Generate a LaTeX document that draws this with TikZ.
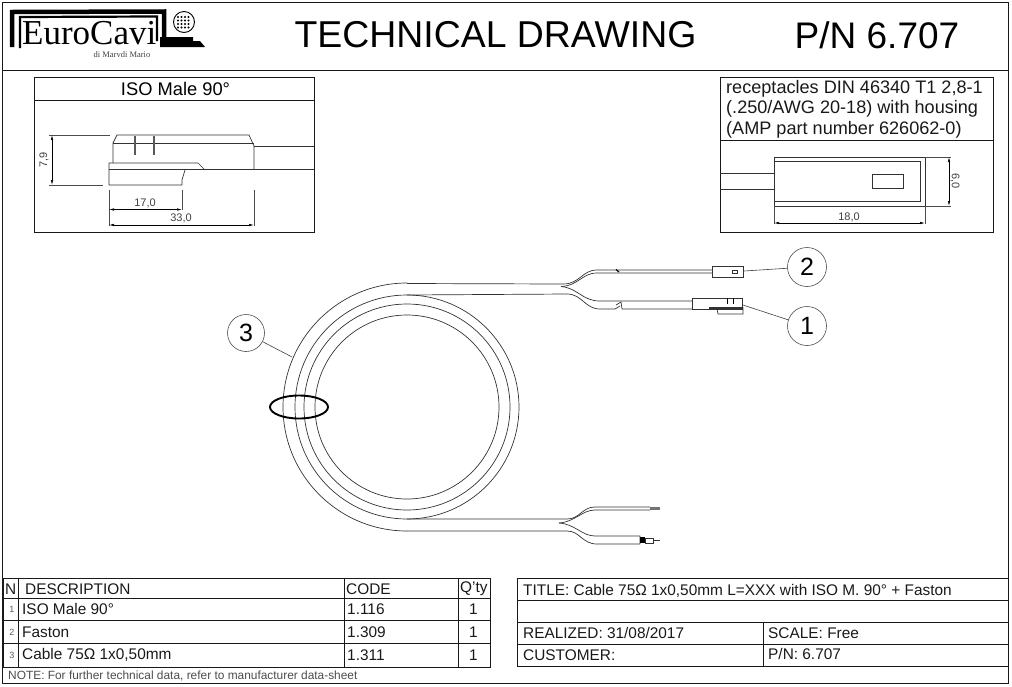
\documentclass[tikz,border=0pt]{standalone}
\usepackage{fontspec}
\setmainfont{Liberation Sans}
\newfontfamily\logofont{Liberation Serif}
\usetikzlibrary{arrows.meta}
\tikzset{
    wire/.style={line width=.7pt, color=black!80},
    frameline/.style={line width=.9pt, color=black!90},
    dimline/.style={line width=.6pt, color=black!70},
    dimarrow/.style={line width=.6pt, color=black, {Latex[length=5pt,width=2.5pt]}-{Latex[length=5pt,width=2.5pt]}},
    dimtext/.style={font=\fontsize{11}{12}\selectfont, color=black!75, inner sep=0pt},
    balloon/.style={circle, draw=black!70, line width=.6pt, minimum size=39pt, inner sep=0pt, font=\fontsize{25}{27}\selectfont},
    leader/.style={line width=.6pt, color=black!75},
    celltext/.style={anchor=west, inner sep=0pt, font=\fontsize{15.4}{17}\selectfont, color=black!90},
    numtext/.style={inner sep=0pt, font=\fontsize{9}{10}\selectfont, color=black!65}
}
\begin{document}
\begin{tikzpicture}[x=1pt,y=-1pt]
            \useasboundingbox (0,0) rectangle (1012,686);

            % sheet and header
            \draw[frameline] (2.5,2.5) rectangle (1008,683);
            \draw[frameline] (2.5,70) -- (1008,70);
            \node[inner sep=0pt, font=\fontsize{37.4}{40}\selectfont] (title) at (495.5,35) {TECHNICAL DRAWING};
            \node[inner sep=0pt, font=\fontsize{37}{40}\selectfont] (partno) at (877,35) {P/N 6.707};

            % logo
            \draw[line width=4.5pt] (12,47) -- (12,12) -- (164,11.5) -- (164,37);
            \draw[line width=2.2pt] (20,48) -- (20,17) -- (157,16.5) -- (157,41);
            \fill (160,37) -- (193,37) -- (193,41) -- (200,41) -- (205,47) -- (160,47) -- cycle;
            \node[anchor=base west, inner sep=0pt, font=\logofont\fontsize{35}{37}\selectfont] (logo) at (22,44) {EuroCavi};
            \node[inner sep=0pt, font=\logofont\fontsize{8.5}{9}\selectfont, color=black!75] (logosub) at (122,55) {di Marvdi Mario};
            \draw[line width=.9pt] (184,22) circle[radius=10.5pt];
            \foreach \px in {178,181.5,185,188.5} {
                \foreach \py in {17,20.5,24,27.5} {
                    \fill (\px,\py) circle[radius=1.2pt];
                }
            }

            % left detail
            \draw[frameline] (34,77) rectangle (314,232);
            \draw[frameline] (34,100) -- (314,100);
            \node[inner sep=0pt, font=\fontsize{18.3}{20}\selectfont] (isotitle) at (175.5,89) {ISO Male 90°};
            \draw[wire] (113,163) -- (113,143) -- (117,135) -- (249,135) -- (254,146) -- (254,169);
            \draw[wire] (113,143) -- (254,143);
            \draw[wire] (254,146) -- (314,146);
            \draw[wire] (254,169) -- (314,169);
            \draw[wire] (109,169) -- (109,163) -- (198,163) -- (204,169);
            \draw[wire] (109,169) -- (254,169);
            \draw[wire] (109,169) -- (109,185) -- (182,185) -- (182,180) -- (185,170);
            \draw[line width=1.2pt, color=black!65] (135,136) -- (135,155);
            \draw[line width=1.2pt, color=black!65] (154,136) -- (154,155);
            \draw[dimline] (49,135) -- (110,135);
            \draw[dimline] (49,185) -- (103,185);
            \draw[dimarrow] (52,135) -- (52,185);
            \node[dimtext, rotate=90] (isoheight) at (44,160) {7,9};
            \draw[dimline] (109,190) -- (109,226);
            \draw[dimline] (182,190) -- (182,210);
            \draw[dimline] (254,190) -- (254,226);
            \draw[dimarrow] (109,209.5) -- (182,209.5);
            \draw[dimarrow] (109,225) -- (254,225);
            \node[dimtext] (isoshort) at (145,203) {17,0};
            \node[dimtext] (isolong) at (181,218) {33,0};

            % right detail
            \draw[frameline] (720,77) rectangle (993,232);
            \draw[frameline] (720,140) -- (993,140);
            \node[celltext, font=\fontsize{18.1}{20}\selectfont] (recept1) at (726,89) {receptacles DIN 46340 T1 2,8-1};
            \node[celltext, font=\fontsize{18.1}{20}\selectfont] (recept2) at (726,109) {(.250/AWG 20-18) with housing};
            \node[celltext, font=\fontsize{18.1}{20}\selectfont] (recept3) at (726,130) {(AMP part number 626062-0)};
            \draw[wire] (774,157) rectangle (925,206);
            \draw[wire] (774,161) rectangle (920,201);
            \draw[wire] (872,174) rectangle (903,188);
            \draw[wire] (720,173) -- (774,173);
            \draw[wire] (720,189) -- (774,189);
            \draw[dimline] (925,157) -- (951,157);
            \draw[dimline] (925,206) -- (951,206);
            \draw[dimline] (774,206) -- (774,224);
            \draw[dimline] (925,206) -- (925,224);
            \draw[dimarrow] (949,157) -- (949,206);
            \draw[dimarrow] (774,223) -- (925,223);
            \node[dimtext, rotate=-90] (faswidth) at (955,181) {6,0};
            \node[dimtext] (faslength) at (849,217) {18,0};

            % cable coil
            \foreach \r in {92,103,112} {
                \draw[wire] (407,407) circle[radius=\r pt];
            }
            \draw[wire] (407,283) arc[start angle=90, end angle=270, radius=124pt];
            \draw[line width=1.9pt] (299,407) ellipse[x radius=29pt, y radius=11.5pt];

            % upper branches
            \draw[wire] (407,283.5) -- (563,284) .. controls (580,284) and (582,270) .. (597,270) -- (712,270);
            \draw[wire] (407,295) -- (567,294) .. controls (582,294) and (585,309) .. (600,309) -- (615,309) -- (620,306);
            \draw[wire] (616,305) -- (621,302) -- (622,309) -- (692,309);
            \draw[wire] (561,286.5) .. controls (578,286) and (582,273) .. (597,273) -- (712,273);
            \draw[wire] (561,286.5) .. controls (578,288) and (582,301) .. (600,301) -- (692,301);
            \draw[line width=1.2pt] (616,269.5) -- (619,272);

            % connector 2
            \draw[wire] (712,266) rectangle (743,277);
            \draw[wire] (732,270) rectangle (737,273);

            % connector 1
            \draw[wire] (692,309) -- (692,298) -- (742,298) -- (742,309) -- (692,309);
            \draw[line width=1.2pt, color=black!80] (709,308) -- (742,308);
            \draw[wire] (717,309) -- (718,314) -- (743,314) -- (743,307);
            \draw[line width=1pt] (727,298) -- (727,304);
            \draw[line width=1pt] (733,298) -- (733,304);

            % lower branches
            \draw[wire] (407,519) -- (567,519) .. controls (580,519) and (582,507) .. (595,507) -- (650,507);
            \draw[wire] (407,531) -- (567,531) .. controls (580,531) and (582,544) .. (597,544) -- (640,544);
            \draw[wire] (559,523) .. controls (575,522) and (582,510) .. (595,510) -- (650,510);
            \draw[wire] (559,523) .. controls (575,524) and (582,536) .. (595,536) -- (640,536) -- (640,544);
            \draw[line width=2.5pt, color=black!55] (650,508.5) -- (660,508.5);
            \fill (640,537) rectangle (645,543);
            \draw[wire] (645,538) rectangle (653,543);
            \draw[wire] (653,540.5) -- (660,540.5);

            % balloons
            \node[balloon] (ball2) at (807,267) {2};
            \node[balloon] (ball1) at (807,326) {1};
            \node[balloon, minimum size=37pt] (ball3) at (246,333) {3};
            \coordinate (tipb) at (744,271);
            \coordinate (tipa) at (743,305);
            \coordinate (tipc) at (292,357);
            \draw[leader] (ball2) -- (tipb);
            \draw[leader] (ball1) -- (tipa);
            \draw[leader] (ball3) -- (tipc);

            % parts list
            \draw[frameline] (3,578) rectangle (490,667);
            \draw[frameline] (3,598.5) -- (490,598.5);
            \draw[frameline] (3,620) -- (490,620);
            \draw[frameline] (3,643) -- (490,643);
            \draw[frameline] (18,578) -- (18,667);
            \draw[frameline] (344,578) -- (344,667);
            \draw[frameline] (458,578) -- (458,667);
            \node[celltext] (headn) at (5,589) {N};
            \node[celltext] (headdesc) at (25,589) {DESCRIPTION};
            \node[celltext] (headcode) at (346,589) {CODE};
            \node[celltext] (headqty) at (460,589) {Q'ty};
            \node[numtext] (num1) at (12,609) {1};
            \node[numtext] (num2) at (12,632) {2};
            \node[numtext] (num3) at (12,655) {3};
            \node[celltext] (desc1) at (22,609) {ISO Male 90°};
            \node[celltext] (desc2) at (22,632) {Faston};
            \node[celltext] (desc3) at (22,655) {Cable 75Ω 1x0,50mm};
            \node[celltext] (code1) at (347,609) {1.116};
            \node[celltext] (code2) at (347,632) {1.309};
            \node[celltext] (code3) at (347,655) {1.311};
            \node[celltext] (qty1) at (469,609) {1};
            \node[celltext] (qty2) at (469,632) {1};
            \node[celltext] (qty3) at (469,655) {1};
            \node[celltext, font=\fontsize{11.9}{13}\selectfont, color=black!70] (note) at (8,676) {NOTE: For further technical data, refer to manufacturer data-sheet};

            % title block
            \draw[frameline] (517,578) rectangle (1008,666);
            \draw[frameline] (517,600) -- (1008,600);
            \draw[frameline] (517,622) -- (1008,622);
            \draw[frameline] (517,644) -- (1008,644);
            \draw[frameline] (763,622) -- (763,666);
            \node[celltext] (blocktitle) at (523,591) {TITLE: Cable 75Ω 1x0,50mm L=XXX with ISO M. 90° + Faston};
            \node[celltext] (realized) at (523,633) {REALIZED: 31/08/2017};
            \node[celltext] (customer) at (523,655) {CUSTOMER:};
            \node[celltext] (scale) at (768,633) {SCALE: Free};
            \node[celltext] (blockpn) at (768,654) {P/N: 6.707};
\end{tikzpicture}
\end{document}
